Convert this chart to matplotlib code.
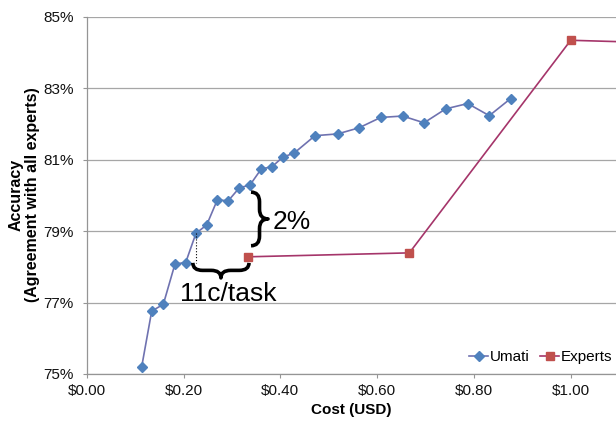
import matplotlib
matplotlib.use('Agg')
import matplotlib.pyplot as plt
from matplotlib.path import Path
from matplotlib.patches import PathPatch
from matplotlib.transforms import IdentityTransform
from matplotlib.ticker import FuncFormatter
import numpy as np

# ---------------- data ----------------
umati_cost = [0.1136, 0.1343, 0.1583, 0.1824, 0.2045, 0.2258, 0.2479, 0.2698,
              0.2926, 0.3153, 0.3374, 0.3607, 0.3829, 0.4050, 0.4283, 0.4717,
              0.5186, 0.5626, 0.6074, 0.6529, 0.6969, 0.7417, 0.7872, 0.8318,
              0.8760]
umati_acc = [75.20, 76.76, 76.95, 78.08, 78.12, 78.94, 79.17, 79.87, 79.85,
             80.21, 80.29, 80.74, 80.80, 81.07, 81.18, 81.67, 81.72, 81.89,
             82.18, 82.22, 82.03, 82.42, 82.57, 82.23, 82.71]
expert_cost = [1/3, 2/3, 1.0, 1.333]
expert_acc = [78.28, 78.39, 84.34, 84.21]

xtick_vals = [0.0, 0.2, 0.4, 0.6, 0.8, 1.0]
ytick_vals = [75, 77, 79, 81, 83, 85]
series_names = ['Umati', 'Experts']

# ---------------- style ----------------
plt.rcParams['font.family'] = ['Liberation Sans', 'DejaVu Sans']
W, H = 616, 421
fig = plt.figure(figsize=(W / 100, H / 100), dpi=100)
x0_px, px_per_unit = 86.7, 484.0
top_px, bot_px = 16.7, 374.0
ax = fig.add_axes([x0_px / W, 1 - bot_px / H, 1 - x0_px / W, (bot_px - top_px) / H])
ax.set_xlim(0, (W - x0_px) / px_per_unit)
ax.set_ylim(75, 85)

grey = '#a6a6a6'
ax.set_yticks(ytick_vals)
ax.set_xticks(xtick_vals)
ax.yaxis.set_major_formatter(FuncFormatter(lambda v, p: f"{v:.0f}%"))
ax.xaxis.set_major_formatter(FuncFormatter(lambda v, p: f"${v:.2f}"))
ax.yaxis.grid(True, color=grey, lw=0.9)
ax.set_axisbelow(True)
for s in ['top', 'right']:
    ax.spines[s].set_visible(False)
for s in ['left', 'bottom']:
    ax.spines[s].set_color('#959595')
    ax.spines[s].set_linewidth(0.9)
ax.tick_params(axis='y', length=3.2, width=0.8, color='#959595', pad=6.0,
               labelsize=11, labelcolor='#111111')
ax.tick_params(axis='x', length=3.2, width=0.8, color='#959595', pad=4.0,
               labelsize=11, labelcolor='#111111')

# ---------------- series ----------------
ax.plot(umati_cost, umati_acc, color='#6f72b0', lw=1.2, marker='D',
        markersize=5, markerfacecolor='#4f81bd', markeredgecolor='#4f81bd',
        label=series_names[0], zorder=3)
ax.plot(expert_cost, expert_acc, color='#a5356a', lw=1.2, marker='s',
        markersize=6, markerfacecolor='#c0504d', markeredgecolor='#c0504d',
        label=series_names[1], zorder=3)

# ---------------- labels ----------------
fig.text((x0_px + W) / 2 / W, 1 - 410 / H, 'Cost (USD)', ha='center', va='center',
         fontsize=11, fontweight='bold')
fig.text(24 / W, 1 - 195 / H, 'Accuracy\n(Agreement with all experts)', rotation=90,
         ha='center', va='center', multialignment='center', fontsize=11.5,
         fontweight='bold', linespacing=1.15)

leg = ax.legend(loc='center', bbox_to_anchor=(541 / W, 1 - 357 / H),
                bbox_transform=fig.transFigure, frameon=False, ncol=2,
                fontsize=11, handlelength=1.2, handletextpad=0.15,
                columnspacing=0.7, borderpad=0.2)


# ---------------- annotations ----------------
def brace(p_start, p_end, width_px, side, lw=2.6):
    T = ax.transData
    a = np.array(T.transform(p_start))
    b = np.array(T.transform(p_end))
    L = np.linalg.norm(b - a)
    u = (b - a) / L
    n = np.array([-u[1], u[0]]) * side
    h = width_px / 2.0
    r = min(h * 1.3, L * 0.18)

    def P(t, s):
        return a + u * t + n * s

    verts = [P(0, 0), P(0, h), P(r, h), P(L / 2 - r, h), P(L / 2, h),
             P(L / 2, width_px), P(L / 2, h), P(L / 2 + r, h), P(L - r, h),
             P(L, h), P(L, 0)]
    codes = [Path.MOVETO, Path.CURVE3, Path.CURVE3, Path.LINETO, Path.CURVE3,
             Path.CURVE3, Path.CURVE3, Path.CURVE3, Path.LINETO, Path.CURVE3,
             Path.CURVE3]
    patch = PathPatch(Path(verts, codes), transform=IdentityTransform(),
                      fill=False, lw=lw, edgecolor='black', clip_on=False,
                      capstyle='butt', joinstyle='round', zorder=5)
    fig.add_artist(patch)


# dotted drop line from the Umati point at the same accuracy level
ax.plot([umati_cost[5], umati_cost[5]], [umati_acc[5], 78.10], ls=':',
        color='black', lw=0.8, zorder=4)
# horizontal brace (cost gap)
brace((umati_cost[5] - 0.0065, 78.11), (expert_cost[0] + 0.002, 78.11), 15, -1)
# vertical brace (accuracy gap)
brace((0.3395, 80.09), (0.3395, 78.59), 17, 1)

ax.text(0.292, 77.05, '11c/task', fontsize=19, ha='center', va='baseline')
ax.text(0.385, 79.05, '2%', fontsize=19, ha='left', va='baseline')

fig.savefig('out.png', dpi=100)
